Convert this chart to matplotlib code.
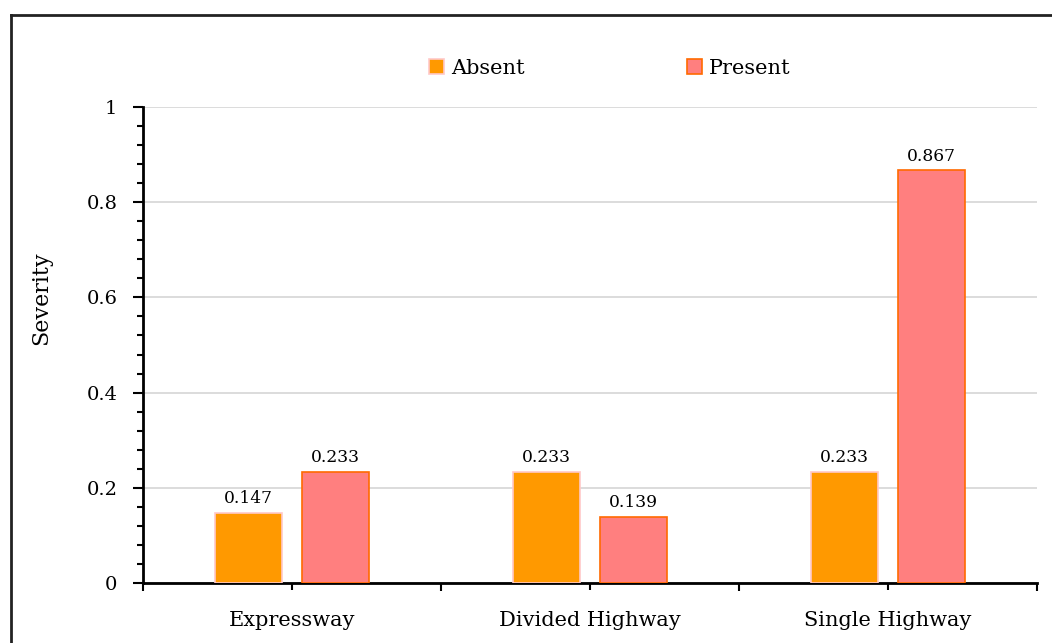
import matplotlib.pyplot as plt
from matplotlib.lines import Line2D
import numpy as np

plt.rcParams['font.family'] = ['DejaVu Serif']

roads = ['Expressway', 'Divided Highway', 'Single Highway']
absent = [0.147, 0.233, 0.233]
present = [0.233, 0.139, 0.867]

fig = plt.figure(figsize=(10.52, 6.43), dpi=100)
ax = fig.add_axes([0.1359, 0.0933, 0.8498, 0.7403])

x = np.arange(len(roads))
w = 0.224
b1 = ax.bar(x - 0.145, absent, w, color='#FF9900', edgecolor='#FFC8C8', linewidth=1.2, label='Absent', zorder=3)
b2 = ax.bar(x + 0.145, present, w, color='#FF7F7F', edgecolor='#FF6A00', linewidth=1.2, label='Present', zorder=3)

# value labels over the bars
for bars, vals in [(b1, absent), (b2, present)]:
    for r, v in zip(bars, vals):
        ax.text(r.get_x() + r.get_width() / 2, v + 0.012, f'{v:.3f}',
                ha='center', va='bottom', fontsize=12.3)

ax.set_xlim(-0.5, 2.5)
ax.set_ylim(0, 1)
ax.set_yticks([0, 0.2, 0.4, 0.6, 0.8, 1.0])
ax.set_yticklabels(['0', '0.2', '0.4', '0.6', '0.8', '1'])
ax.set_yticks(np.arange(0, 1.0001, 0.04), minor=True)
ax.set_xticks(x)
ax.set_xticklabels(roads)
ax.set_xticks(np.arange(-0.5, 2.51, 1.0), minor=True)
ax.tick_params(axis='both', width=1.5, color='black')
ax.tick_params(axis='y', labelsize=14)
ax.tick_params(axis='x', labelsize=15)
ax.tick_params(axis='y', which='major', length=7, pad=11.5)
ax.tick_params(axis='y', which='minor', length=4.3, width=1.5)
ax.tick_params(axis='x', which='major', length=5, pad=15)
ax.tick_params(axis='x', which='minor', length=6, width=1.5)
ax.grid(axis='y', color='#D9D9D9', linewidth=1.3, zorder=0)

for s in ['top', 'right']:
    ax.spines[s].set_visible(False)
for s in ['left', 'bottom']:
    ax.spines[s].set_linewidth(2)

ax.set_ylabel('Severity', fontsize=16)
ax.yaxis.set_label_coords(-0.102, 0.599)

fig.legend(handles=[b1, b2], loc='center', bbox_to_anchor=(0.58, 0.894), ncol=2,
           frameon=False, fontsize=15, handlelength=0.72, handleheight=0.72,
           handletextpad=0.33, columnspacing=7.8)

# outer frame (left and top only, figure is cropped)
fig.add_artist(Line2D([0.0105, 0.0105], [0, 0.977], color='#222222', linewidth=2))
fig.add_artist(Line2D([0.0105, 1.0], [0.977, 0.977], color='#222222', linewidth=2))

fig.savefig('out.png', dpi=100)
